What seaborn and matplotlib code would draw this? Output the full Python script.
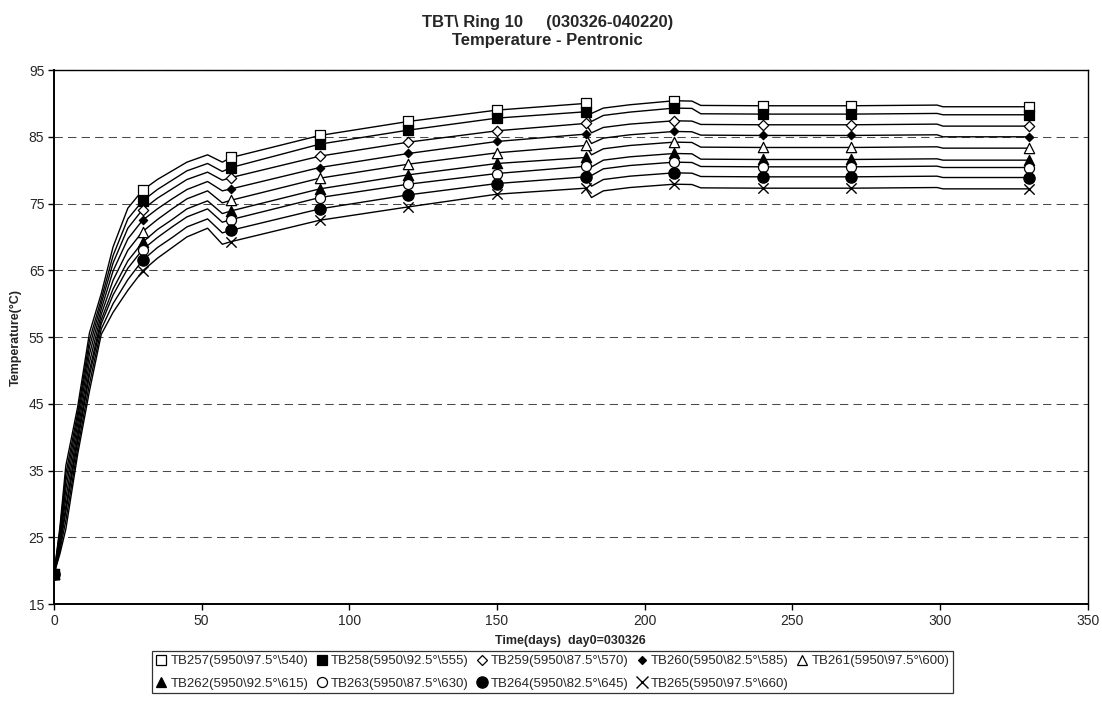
import matplotlib
matplotlib.use("Agg")
import matplotlib.pyplot as plt
from matplotlib.lines import Line2D
import numpy as np
import pandas as pd
import seaborn as sns

# Sensor names and positions
SENSORS = [
    "TB257(5950\\97.5°\\540)", "TB258(5950\\92.5°\\555)", "TB259(5950\\87.5°\\570)",
    "TB260(5950\\82.5°\\585)", "TB261(5950\\97.5°\\600)", "TB262(5950\\92.5°\\615)",
    "TB263(5950\\87.5°\\630)", "TB264(5950\\82.5°\\645)", "TB265(5950\\97.5°\\660)",
]

# Days at which the temperature curves are sampled
DAYS = [0, 2, 4, 8, 12, 16, 20, 25, 30, 35, 40, 45, 52, 57, 60, 90, 120, 150,
        180, 182, 186, 195, 210, 216, 219, 240, 270, 299, 301, 330]

TB257 = [19.5, 26.5, 35.7, 44.5, 55.6, 61.5, 68.5, 74.3, 77.0, 78.6, 79.9, 81.2, 82.3, 81.2, 81.9,
         85.2, 87.3, 89.0, 90.0, 88.5, 89.3, 89.8, 90.4, 90.35, 89.7, 89.65, 89.65, 89.75, 89.5, 89.5]
TB258 = [19.5, 26.0, 34.5, 43.6, 54.5, 60.7, 67.2, 72.7, 75.4, 77.1, 78.5, 79.9, 81.0, 79.8, 80.4,
         83.9, 86.0, 87.8, 88.75, 87.3, 88.2, 88.7, 89.3, 89.25, 88.45, 88.4, 88.4, 88.5, 88.3, 88.3]
TB259 = [19.5, 25.5, 33.4, 42.8, 53.5, 60.0, 66.1, 71.3, 74.1, 75.8, 77.2, 78.6, 79.7, 78.5, 78.9,
         82.1, 84.2, 85.9, 87.0, 85.6, 86.4, 86.9, 87.4, 87.35, 86.85, 86.8, 86.8, 86.9, 86.6, 86.6]
TB260 = [19.5, 25.0, 32.2, 41.9, 52.4, 59.2, 64.9, 69.7, 72.5, 74.2, 75.7, 77.1, 78.3, 76.9, 77.2,
         80.4, 82.5, 84.3, 85.4, 84.0, 84.8, 85.3, 85.8, 85.75, 85.25, 85.2, 85.2, 85.3, 85.0, 85.0]
TB261 = [19.5, 24.5, 30.9, 40.9, 51.2, 58.4, 63.5, 68.0, 70.8, 72.6, 74.2, 75.7, 76.9, 75.1, 75.5,
         78.8, 80.9, 82.6, 83.7, 82.3, 83.2, 83.7, 84.2, 84.15, 83.45, 83.4, 83.4, 83.5, 83.3, 83.3]
TB262 = [19.5, 24.0, 29.6, 40.0, 50.0, 57.6, 62.2, 66.4, 69.2, 71.1, 72.6, 74.2, 75.4, 73.5, 73.9,
         77.2, 79.3, 81.0, 81.9, 80.5, 81.5, 82.0, 82.5, 82.45, 81.65, 81.6, 81.6, 81.7, 81.5, 81.5]
TB263 = [19.5, 23.6, 28.8, 39.3, 49.2, 57.0, 61.3, 65.3, 68.1, 69.9, 71.5, 73.0, 74.2, 72.2, 72.6,
         75.9, 77.9, 79.5, 80.6, 79.2, 80.2, 80.7, 81.2, 81.15, 80.55, 80.5, 80.5, 80.6, 80.4, 80.4]
TB264 = [19.5, 23.0, 27.5, 38.3, 48.0, 56.2, 60.0, 63.6, 66.5, 68.4, 69.9, 71.5, 72.7, 70.6, 71.0,
         74.2, 76.3, 78.0, 79.0, 77.6, 78.6, 79.1, 79.6, 79.55, 79.05, 79.0, 79.0, 79.1, 78.9, 78.9]
TB265 = [19.5, 22.5, 26.2, 37.4, 46.9, 55.4, 58.7, 62.0, 64.9, 66.8, 68.4, 70.0, 71.3, 68.9, 69.3,
         72.5, 74.5, 76.4, 77.3, 75.9, 76.9, 77.4, 77.9, 77.85, 77.35, 77.3, 77.3, 77.4, 77.2, 77.2]

SERIES = [TB257, TB258, TB259, TB260, TB261, TB262, TB263, TB264, TB265]

# Days carrying a symbol on each curve
MARKER_DAYS = [0, 30, 60, 90, 120, 150, 180, 210, 240, 270, 330]

# Symbol, fill and size for each sensor
STYLES = [
    ("s", "white", 48), ("s", "black", 48), ("D", "white", 28), ("D", "black", 18),
    ("^", "white", 55), ("^", "black", 55), ("o", "white", 52), ("o", "black", 66),
    ("x", "black", 55),
]

sns.set_theme(style="white")
plt.rcParams["font.family"] = ["Liberation Sans", "DejaVu Sans"]

fig = plt.figure(figsize=(11.02, 7.04), dpi=100)
ax = fig.add_axes([0.049, 0.142, 0.938, 0.7585])

for name, vals, (mk, fc, sz) in zip(SENSORS, SERIES, STYLES):
    df = pd.DataFrame({"day": DAYS, "temp": vals})
    sns.lineplot(data=df, x="day", y="temp", color="black", linewidth=1.0,
                 ax=ax, legend=False, zorder=2)
    mdf = df[df["day"].isin(MARKER_DAYS)]
    if mk == "x":
        sns.scatterplot(data=mdf, x="day", y="temp", marker=mk, s=sz, color="black",
                        linewidth=1.0, ax=ax, legend=False, zorder=3)
    else:
        sns.scatterplot(data=mdf, x="day", y="temp", marker=mk, s=sz, facecolor=fc,
                        edgecolor="black", linewidth=0.9, ax=ax, legend=False, zorder=3)

ax.set_xlim(0, 350)
ax.set_ylim(15, 95)
ax.set_xticks(np.arange(0, 351, 50))
ax.set_yticks(np.arange(15, 96, 10))
ax.yaxis.grid(True, color="#4a4a4a", linestyle=(0, (8, 5)), linewidth=0.75)
ax.xaxis.grid(False)
for sp in ax.spines.values():
    sp.set_color("black")
    sp.set_linewidth(1.0)
ax.spines["left"].set_linewidth(1.4)
ax.spines["bottom"].set_linewidth(1.4)
ax.tick_params(axis="both", direction="out", length=4, width=1, color="black",
               labelsize=10, pad=3, bottom=True, left=True)
ax.set_xlabel("Time(days)  day0=030326", fontsize=9, fontweight="bold", labelpad=5)
ax.set_ylabel("Temperature(°C)", fontsize=9, fontweight="bold", labelpad=5)

fig.suptitle("TBT\\ Ring 10     (030326-040220)\nTemperature - Pentronic",
             x=0.497, y=0.979, fontsize=12, fontweight="bold", linespacing=1.3)

handles = []
for name, (mk, fc, sz) in zip(SENSORS, STYLES):
    if mk == "x":
        h = Line2D([], [], linestyle="none", marker=mk, markersize=8,
                   color="black", markeredgewidth=1.0, label=name)
    else:
        h = Line2D([], [], linestyle="none", marker=mk, markersize=np.sqrt(sz),
                   markerfacecolor=fc, markeredgecolor="black", markeredgewidth=0.9,
                   label=name)
    handles.append(h)
order = [0, 5, 1, 6, 2, 7, 3, 8, 4]
leg = fig.legend([handles[i] for i in order], [SENSORS[i] for i in order],
                 ncol=5, loc="upper left", bbox_to_anchor=(0.138, 0.075),
                 fontsize=9.5, frameon=True, fancybox=False, edgecolor="black",
                 handlelength=0.8, handletextpad=0.3, columnspacing=0.6,
                 borderpad=0.3, labelspacing=0.75, borderaxespad=0)
leg.get_frame().set_linewidth(0.9)

fig.savefig("out.png", dpi=100)
